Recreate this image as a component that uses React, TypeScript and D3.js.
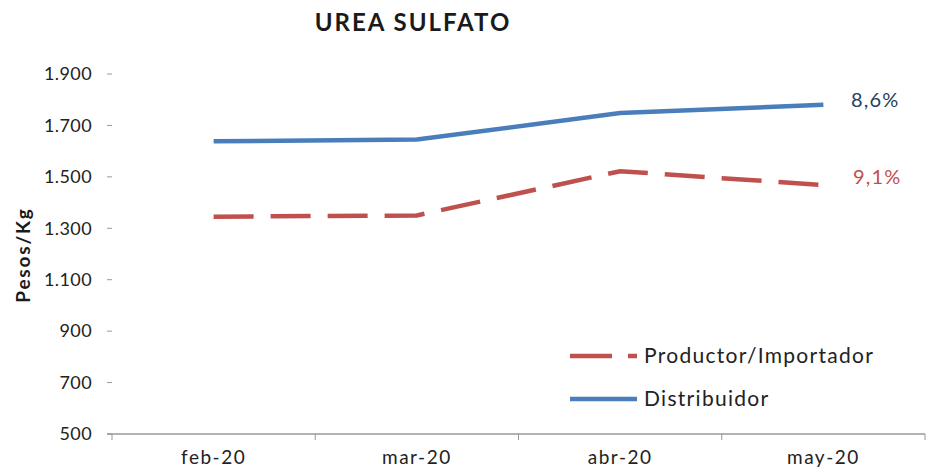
import React from "react";
import * as d3 from "d3";

const categories = ["feb-20", "mar-20", "abr-20", "may-20"];
const productor = [1345, 1350, 1522, 1468];
const distribuidor = [1638, 1645, 1748, 1780];
const yTicks = [500, 700, 900, 1100, 1300, 1500, 1700, 1900];
const endLabels = { productor: "9,1%", distribuidor: "8,6%" };

const W = 928, H = 470;
const left = 112, right = 925, top = 74, bottom = 434;
const FONT = "Lato, 'Open Sans', sans-serif";

export default function App() {
  const x = d3.scaleBand().domain(categories).range([left, right]);
  const y = d3.scaleLinear().domain([500, 1900]).range([bottom, top]);
  const cx = (c: string) => (x(c) as number) + x.bandwidth() / 2;
  const line = d3.line<number>().x((_, i) => cx(categories[i])).y((v) => y(v));
  const blue = "#4a7ebb";
  const red = "#c0504d";
  const tickEdges = [...categories.map((c) => x(c) as number), right];
  const last = categories.length - 1;

  return (
    <svg width={W} height={H} style={{ position: "absolute", left: 0, top: 0, background: "#fff" }}>
      <text x={413} y={31} textAnchor="middle" fontFamily={FONT} fontWeight={700} fontSize={24} letterSpacing={2} fill="#1a1a1a">
        UREA SULFATO
      </text>
      <text
        transform={`translate(30,${255}) rotate(-90)`}
        textAnchor="middle"
        fontFamily={FONT}
        fontWeight={700}
        fontSize={19}
        letterSpacing={1.8}
        fill="#1a1a1a"
      >
        Pesos/Kg
      </text>
      {yTicks.map((t) => (
        <g key={t}>
          <line x1={107} x2={112} y1={y(t)} y2={y(t)} stroke="#999" strokeWidth={1} />
          <text x={92} y={y(t)} dy="0.35em" textAnchor="end" fontFamily={FONT} fontSize={18} letterSpacing={0.4} fill="#222">
            {d3.format(",")(t).replace(/,/g, ".")}
          </text>
        </g>
      ))}
      <line x1={107} x2={right} y1={bottom} y2={bottom} stroke="#999" strokeWidth={1.5} />
      {tickEdges.map((tx, i) => (
        <line key={i} x1={tx} x2={tx} y1={bottom} y2={bottom + 6} stroke="#999" strokeWidth={1} />
      ))}
      {categories.map((c) => (
        <text key={c} x={cx(c)} y={464} textAnchor="middle" fontFamily={FONT} fontSize={19} letterSpacing={1.5} fill="#222">
          {c}
        </text>
      ))}
      <path d={line(distribuidor) || ""} fill="none" stroke={blue} strokeWidth={4.5} />
      <path d={line(productor) || ""} fill="none" stroke={red} strokeWidth={4.5} strokeDasharray="40,17" />
      <text x={851} y={y(distribuidor[last])} dy="0.1em" fontFamily={FONT} fontSize={20} letterSpacing={1.2} fill="#243f60">
        {endLabels.distribuidor}
      </text>
      <text x={853} y={y(productor[last])} dy="-0.05em" fontFamily={FONT} fontSize={20} letterSpacing={1.2} fill={red}>
        {endLabels.productor}
      </text>
      <line x1={570} x2={637} y1={356} y2={356} stroke={red} strokeWidth={4.5} strokeDasharray="42,16" />
      <text x={644} y={356} dy="0.35em" fontFamily={FONT} fontSize={21} letterSpacing={1.3} fill="#222">
        Productor/Importador
      </text>
      <line x1={570} x2={637} y1={399} y2={399} stroke={blue} strokeWidth={4.5} />
      <text x={644} y={399} dy="0.35em" fontFamily={FONT} fontSize={21} letterSpacing={1.3} fill="#222">
        Distribuidor
      </text>
    </svg>
  );
}
